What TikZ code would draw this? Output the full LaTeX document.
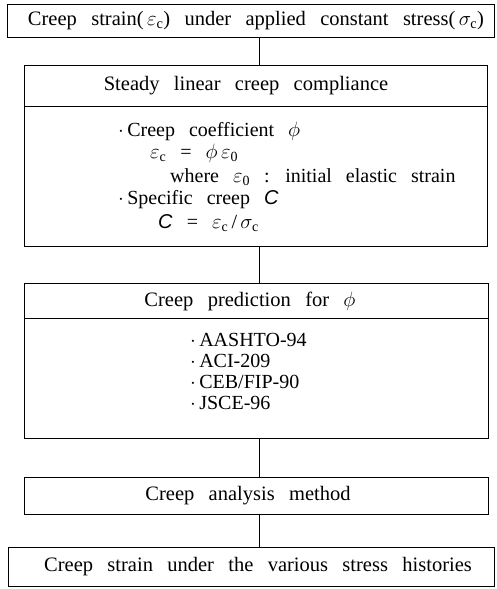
\documentclass[tikz,border=0pt]{standalone}
\usepackage{fontspec}
\setmainfont[WordSpace=2.8]{Liberation Serif}
\setsansfont{Liberation Sans}
\newcommand{\epsc}{$\varepsilon_{\mathrm{c}}$}
\newcommand{\epsz}{$\varepsilon_{\mathrm{0}}$}
\newcommand{\sigc}{$\sigma_{\mathrm{c}}$}
\newcommand{\phic}{$\phi$}
\newcommand{\Csf}{\textsf{\itshape C}}
\begin{document}
\begin{tikzpicture}[x=1pt,y=-1pt,
  box/.style={draw, line width=1pt, inner sep=0pt},
  txt/.style={inner sep=0pt, font=\fontsize{20.5}{24}\selectfont},
  btxt/.style={inner sep=0pt, anchor=west, font=\fontsize{20}{22}\selectfont},
  ln/.style={line width=1pt}]
\useasboundingbox (0,0) rectangle (497,589);
% boxes
\node[box, minimum width=487pt, minimum height=33pt] (b1) at (250.5,20.5) {};
\node[box, minimum width=463pt, minimum height=181pt] (b2) at (255.5,155.5) {};
\node[box, minimum width=464pt, minimum height=155pt] (b3) at (256,360.5) {};
\node[box, minimum width=464pt, minimum height=37pt] (b4) at (256,495.5) {};
\node[box, minimum width=486pt, minimum height=39pt] (b5) at (251,566.5) {};
% dividers
\coordinate (d2) at (0,106);
\coordinate (d3) at (0,318);
\draw[ln] (b2.west |- d2) -- (b2.east |- d2);
\draw[ln] (b3.west |- d3) -- (b3.east |- d3);
% connectors
\coordinate (cx) at (259,0);
\draw[ln] (b1.south -| cx) -- (b2.north -| cx);
\draw[ln] (b2.south -| cx) -- (b3.north -| cx);
\draw[ln] (b3.south -| cx) -- (b4.north -| cx);
\draw[ln] (b4.south -| cx) -- (b5.north -| cx);
% texts
\node[txt] (t1) at (256,20.5) {Creep strain(\,\epsc) under applied constant stress(\,\sigc)};
\node[txt] (t2) at (246,86) {Steady linear creep compliance};
\node[btxt] (l1) at (118,131) {$\cdot$\,Creep coefficient \phic};
\node[btxt] (l2) at (150,153) {\epsc\ = \phic\,\epsz};
\node[btxt] (l3) at (170,177) {where \epsz\ : initial elastic strain};
\node[btxt] (l4) at (118,200) {$\cdot$\,Specific creep \Csf};
\node[btxt] (l5) at (158,223) {\Csf\ = \epsc\,/\,\sigc};
\node[txt] (t3) at (250,301) {Creep prediction for \phic};
\node[btxt] (p1) at (190,340) {$\cdot$\,AASHTO-94};
\node[btxt] (p2) at (190,361) {$\cdot$\,ACI-209};
\node[btxt] (p3) at (190,382) {$\cdot$\,CEB/FIP-90};
\node[btxt] (p4) at (190,403) {$\cdot$\,JSCE-96};
\node[txt] (t4) at (248,495.5) {Creep analysis method};
\node[txt] (t5) at (258,566.5) {Creep strain under the various stress histories};
\end{tikzpicture}
\end{document}
